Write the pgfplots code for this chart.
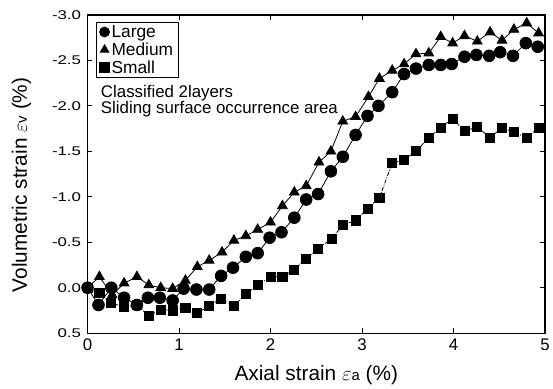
\documentclass[border=0pt]{standalone}
\usepackage{fontspec}
\setmainfont{Liberation Sans}
\usepackage{pgfplots}
\pgfplotsset{compat=1.18}
\begin{document}
\begin{tikzpicture}
\begin{axis}[
  name=ax,
  scale only axis, width=460bp, height=320bp,
  xmin=0, xmax=5, ymin=-3, ymax=0.5, y dir=reverse,
  xtick={0,1,2,3,4,5}, ytick={-3,-2.5,-2,-1.5,-1,-0.5,0,0.5},
  tick align=inside, major tick length=5bp, minor tick num=0,
  tick style={black, line width=0.8pt},
  axis line style={line width=1.3pt},
  /pgf/number format/assume math mode=true,
  yticklabel={\scalebox{1}[0.75]{\pgfmathprintnumber[fixed,fixed zerofill,precision=1]{\tick}}},
  ticklabel style={font=\fontsize{17}{19}\selectfont},
  yticklabel style={xshift=-3bp},
  xticklabel style={yshift=-2bp},
  xlabel={Axial strain {\fontsize{21}{22}\selectfont$\varepsilon$}{\fontsize{15}{16}\selectfont a} (\%)},
  ylabel={Volumetric strain {\fontsize{21}{22}\selectfont$\varepsilon$}{\fontsize{15}{16}\selectfont v} (\%)},
  every axis x label/.style={at={(axis description cs:0.5,-0.15)}, anchor=base, font=\fontsize{21}{23}\selectfont},
  every axis y label/.style={at={(axis description cs:-0.1326,0.466)}, anchor=base, rotate=90, font=\fontsize{21}{23}\selectfont},
  legend style={at={(0.019,0.978)}, anchor=north west, draw=black, line width=0.8pt,
    font=\fontsize{17.5}{18}\selectfont, inner xsep=3bp, inner ysep=1bp, row sep=0bp},
  legend cell align=left,
  legend image code/.code={\draw[#1, only marks, mark size=5bp] plot coordinates {(0.14cm,0cm)};},
]
\addplot[black, line width=0.8pt, mark=*, mark size=5.9bp, mark options={fill=black}] coordinates {
(0,0.0) (0.12,0.19) (0.26,0.0) (0.40,0.11) (0.54,0.19) (0.66,0.11) (0.79,0.11) (0.93,0.14)
(1.05,0.01) (1.19,0.02) (1.33,0.02) (1.46,-0.13) (1.59,-0.22) (1.73,-0.34) (1.86,-0.38)
(1.99,-0.55) (2.12,-0.61) (2.26,-0.77) (2.39,-0.97) (2.52,-1.03) (2.66,-1.28) (2.79,-1.44)
(2.93,-1.68) (3.06,-1.89) (3.18,-2.00) (3.33,-2.15) (3.46,-2.35) (3.59,-2.41) (3.73,-2.45)
(3.86,-2.45) (3.98,-2.46) (4.12,-2.54) (4.25,-2.56) (4.39,-2.55) (4.51,-2.59) (4.65,-2.55)
(4.79,-2.69) (4.92,-2.65)};
\addlegendentry{Large}
\addplot[black, line width=0.8pt, mark=triangle*, mark size=5.6bp, mark options={fill=black}] coordinates {
(0,0.0) (0.13,-0.12) (0.27,0.08) (0.40,-0.05) (0.54,-0.12) (0.67,-0.03) (0.80,0.0) (0.93,0.01)
(1.07,-0.08) (1.20,-0.23) (1.33,-0.30) (1.47,-0.39) (1.60,-0.52) (1.73,-0.57) (1.86,-0.64)
(2.00,-0.72) (2.13,-0.90) (2.26,-1.05) (2.39,-1.12) (2.53,-1.38) (2.66,-1.50) (2.79,-1.83)
(2.93,-1.88) (3.07,-2.10) (3.19,-2.30) (3.33,-2.39) (3.46,-2.46) (3.59,-2.57) (3.73,-2.58)
(3.86,-2.76) (3.99,-2.69) (4.12,-2.77) (4.26,-2.71) (4.40,-2.81) (4.53,-2.72) (4.66,-2.84)
(4.80,-2.91) (4.93,-2.80)};
\addlegendentry{Medium}
\addplot[black, line width=0.8pt, dash pattern=on 4bp off 1.5bp on 1bp off 1.5bp, mark=square*, mark size=4.6bp, mark options={fill=black, solid}] coordinates {
(0,0.0) (0.13,0.06) (0.26,0.17) (0.40,0.21) (0.54,0.19) (0.67,0.31) (0.80,0.24) (0.93,0.25)
(1.07,0.22) (1.20,0.28) (1.33,0.20) (1.46,0.12) (1.60,0.20) (1.73,0.07) (1.86,-0.03)
(2.00,-0.12) (2.13,-0.12) (2.26,-0.20) (2.39,-0.32) (2.52,-0.43) (2.67,-0.54) (2.79,-0.69)
(2.93,-0.74) (3.06,-0.87) (3.19,-0.99) (3.33,-1.37) (3.46,-1.41) (3.59,-1.50) (3.73,-1.65)
(3.86,-1.76) (3.99,-1.86) (4.12,-1.72) (4.26,-1.77) (4.40,-1.65) (4.53,-1.76) (4.66,-1.71)
(4.80,-1.65) (4.93,-1.76)};
\addlegendentry{Small}
\node[anchor=north west, align=left, inner sep=0pt, font=\fontsize{17}{16.7}\selectfont]
  at (axis description cs:0.029,0.78) {Classified 2layers\\Sliding surface occurrence area};
\end{axis}
\path ([shift={(-88bp,-55bp)}]ax.south west) rectangle ++(553bp,390bp);
\end{tikzpicture}
\end{document}
